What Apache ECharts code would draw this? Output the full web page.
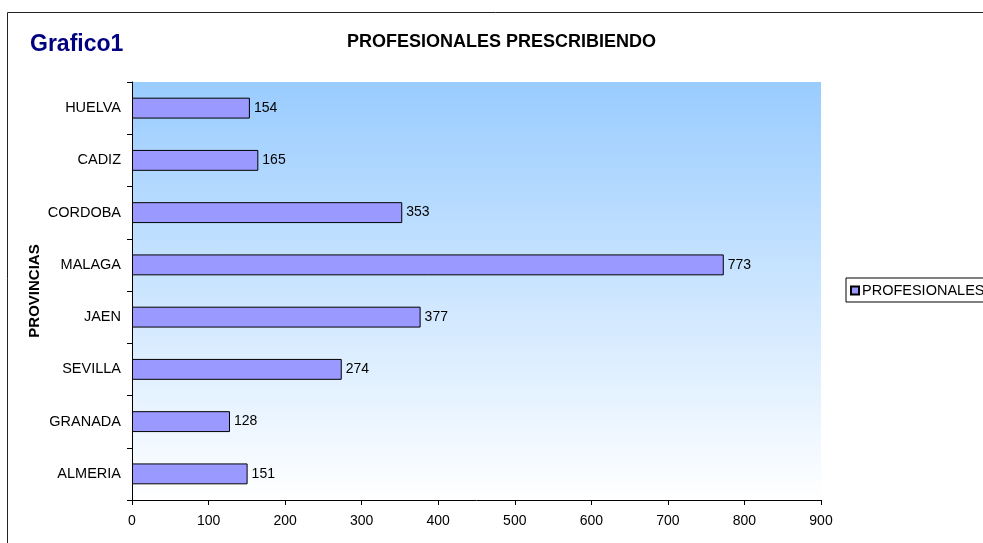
<!DOCTYPE html>
<html><head><meta charset="utf-8">
<script src="https://cdn.jsdelivr.net/npm/echarts@6/dist/echarts.min.js"></script>
<style>html,body{margin:0;padding:0;background:#fff}#c{width:983px;height:543px}</style>
</head><body><div id="c"></div>
<script>
var categories = ['ALMERIA','GRANADA','SEVILLA','JAEN','MALAGA','CORDOBA','CADIZ','HUELVA'];
var values = [151,128,274,377,773,353,165,154];
var seriesName = 'PROFESIONALES';
var xTicks = [0,100,200,300,400,500,600,700,800,900];

var chart = echarts.init(document.getElementById('c'), null, {renderer:'canvas'});
var font = 'Liberation Sans, Arial, sans-serif';
chart.setOption({
  animation:false,
  textStyle:{fontFamily:font},
  graphic:[
    {type:'rect', shape:{x:7.5,y:12.5,width:1100,height:700}, style:{fill:'none',stroke:'#222',lineWidth:1}, z:-10},
    {type:'text', left:30, top:33, style:{text:'Grafico1', fill:'#000080', font:'bold 23px '+font}},
    {type:'text', left:347, top:33, style:{text:'PROFESIONALES PRESCRIBIENDO', fill:'#000', font:'bold 18px '+font}}
  ],
  legend:{
    left:846, top:278, orient:'vertical',
    data:[seriesName],
    itemWidth:8, itemHeight:8, itemGap:4,
    padding:[5,4,4,4],
    borderColor:'#000', borderWidth:1, borderRadius:0,
    icon:'rect',
    textStyle:{fontSize:14.5, color:'#000', fontFamily:font, padding:[0,0,0,-2]}
  },
  grid:{left:132, right:162, top:82, bottom:43, show:true, borderWidth:0,
    backgroundColor:new echarts.graphic.LinearGradient(0,0,0,1,[{offset:0,color:'#99CCFF'},{offset:1,color:'#FFFFFF'}])},
  xAxis:{
    type:'value', min:0, max:900, interval:100,
    axisLine:{show:true, lineStyle:{color:'#000'}},
    axisTick:{show:true, length:5, lineStyle:{color:'#000'}},
    axisLabel:{color:'#000', fontSize:14, margin:14, fontFamily:font,
      formatter:function(v){return xTicks.indexOf(v)>=0 ? String(v) : '';}},
    splitLine:{show:false}
  },
  yAxis:{
    type:'category', data:categories,
    name:'PROVINCIAS', nameLocation:'middle', nameGap:90, nameRotate:90, nameMoveOverlap:false,
    nameTextStyle:{fontWeight:'bold', fontSize:15, color:'#000', fontFamily:font},
    axisLine:{show:true, lineStyle:{color:'#000'}},
    axisTick:{show:true, length:5, lineStyle:{color:'#000'}},
    axisLabel:{color:'#000', fontSize:14.5, margin:11, fontFamily:font}
  },
  series:[{
    name:seriesName, type:'bar', data:values, barCategoryGap:'60%',
    itemStyle:{color:'#9999FF', borderColor:'#000', borderWidth:1},
    label:{show:true, position:'right', distance:4, color:'#000', fontSize:14, fontFamily:font}
  }]
});
</script></body></html>
